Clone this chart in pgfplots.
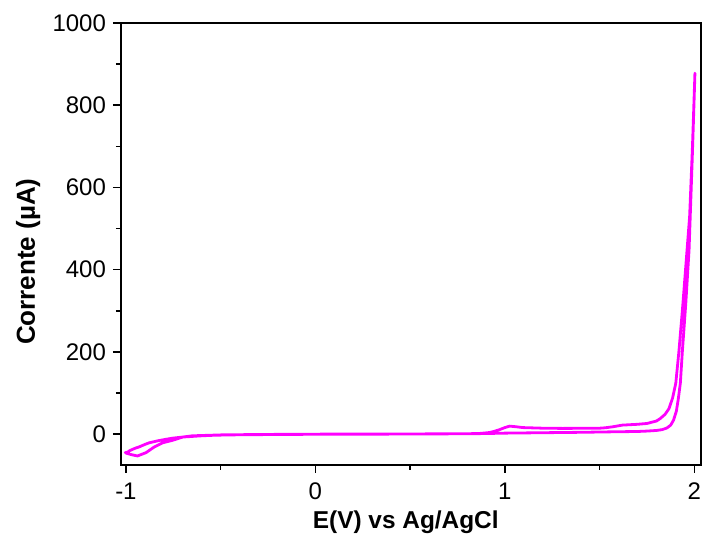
\documentclass[border=0pt]{standalone}
\usepackage{fontspec}
\setmainfont{Liberation Sans}
\usepackage{pgfplots}
\pgfplotsset{compat=1.18}
\definecolor{cvmagenta}{HTML}{FF00FF}

\begin{document}
\begin{tikzpicture}
\useasboundingbox (-60.5pt,-37.5pt) rectangle (290.5pt,232.5pt);
\begin{axis}[scale only axis,width=290pt,height=221pt,
  xmin=-1.026,xmax=2.035,ymin=-75,ymax=1000,
  xtick={-1,0,1,2},minor xtick={-0.5,0.5,1.5},
  ytick={0,200,400,600,800,1000},minor ytick={100,300,500,700,900},
  xtick pos=bottom,ytick pos=left,tick align=outside,
  major tick length=4pt,minor tick length=2.5pt,
  every tick/.style={black,line width=0.8pt},
  axis line style={line width=0.9pt},
  /pgf/number format/assume math mode=true,
  /pgf/number format/1000 sep={},
  tick label style={font=\fontsize{12}{14}\selectfont},
  xticklabel style={yshift=-1.5pt},
  xlabel={E(V) vs Ag/AgCl},ylabel={Corrente (µA)},
  xlabel style={font=\fontsize{12.2}{14}\selectfont\bfseries,
    at={(axis description cs:0.491,-0.129)},anchor=center},
  ylabel style={font=\fontsize{13}{15}\selectfont\bfseries,
    at={(axis description cs:-0.16,0.46)},anchor=center},
  clip=false]
% one full cycle: forward scan to 2 V, then back to -1 V
\addplot[cvmagenta,line width=1.4pt,line join=round] coordinates {
(-1.0,-47) (-0.98,-40) (-0.95,-34) (-0.93,-31) (-0.9,-25) (-0.877,-21) (-0.83,-16)
(-0.789,-12.5) (-0.75,-9.5) (-0.7,-7) (-0.6,-4) (-0.525,-2.5) (-0.4,-1.5) (-0.2,-0.8)
(0,-0.3) (0.3,0) (0.6,0.5) (0.8,1) (0.9,1.5) (1.0,2.5) (1.2,3.5) (1.4,4.5) (1.57,5.7)
(1.7,6.5) (1.75,7.5) (1.8,9) (1.83,11) (1.855,15) (1.875,22) (1.89,34) (1.905,56)
(1.915,85) (1.926,124) (1.937,204) (1.955,320) (1.972,448) (1.988,660) (1.995,760)
(2.003,878)
(1.99,700) (1.975,530) (1.96,440) (1.94,320) (1.919,204) (1.902,124) (1.885,88)
(1.866,62) (1.845,48) (1.82,38) (1.8,32) (1.75,26) (1.7,24) (1.62,22) (1.57,18)
(1.53,15.5) (1.5,14.5) (1.305,14) (1.2,14.5) (1.094,16) (1.06,18) (1.025,19.5)
(1.0,16) (0.972,11) (0.945,7) (0.92,4) (0.866,1.7) (0.8,1) (0.5,0.5) (0,0)
(-0.3,-0.8) (-0.5,-1.8) (-0.65,-4) (-0.7,-7) (-0.754,-15) (-0.806,-21) (-0.85,-31)
(-0.894,-45) (-0.939,-53) (-0.97,-50) (-1.0,-46) (-1.005,-42)
};
\end{axis}
\end{tikzpicture}
\end{document}
